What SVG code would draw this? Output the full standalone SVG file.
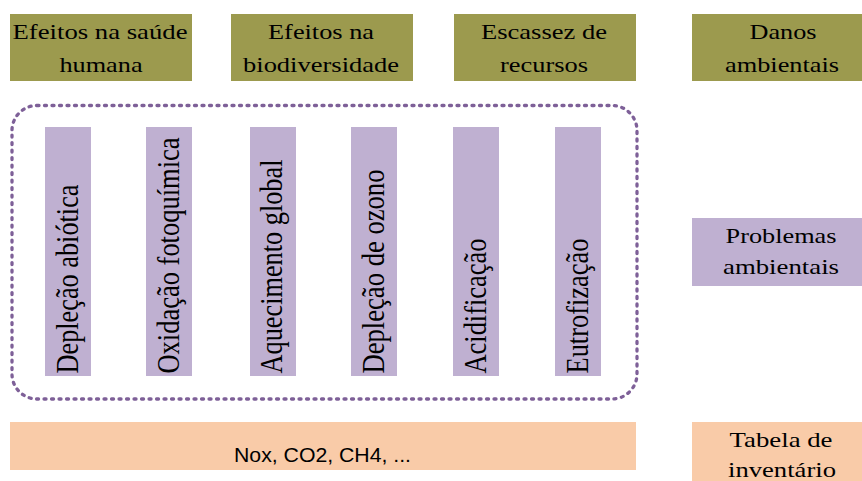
<svg xmlns="http://www.w3.org/2000/svg" width="862" height="481" viewBox="0 0 862 481">
  <style>
    .damage { fill: #9c9a4e; }
    .problem { fill: #bfb0d1; }
    .inventory { fill: #f9cba8; }
    .h-txt { font-family: "Liberation Serif", "Times New Roman", serif; font-size: 22px; fill: #000; text-anchor: middle; }
    .v-txt { font-family: "Liberation Serif", "Times New Roman", serif; font-size: 26px; fill: #000; text-anchor: start; }
    .sans-txt { font-family: "Liberation Sans", Arial, sans-serif; font-size: 20.5px; fill: #000; text-anchor: middle; }
    .frame { fill: none; stroke: #7e6098; stroke-width: 3.3; stroke-dasharray: 2 5.5; stroke-linecap: round; }
  </style>
  <rect width="862" height="481" fill="#ffffff"/>

  <!-- damage categories (labels widened 1.2x horizontally) -->
  <g id="saude">
    <rect class="damage" x="10" y="14" width="182" height="67"/>
    <text class="h-txt" transform="translate(100 39) scale(1.2 1)" textLength="145.8" lengthAdjust="spacingAndGlyphs">Efeitos na saúde</text>
    <text class="h-txt" transform="translate(101 72) scale(1.2 1)" textLength="69.2" lengthAdjust="spacingAndGlyphs">humana</text>
  </g>
  <g id="biodiversidade">
    <rect class="damage" x="231" y="14" width="182" height="67"/>
    <text class="h-txt" transform="translate(321 39) scale(1.2 1)" textLength="88.3" lengthAdjust="spacingAndGlyphs">Efeitos na</text>
    <text class="h-txt" transform="translate(321 72) scale(1.2 1)" textLength="130" lengthAdjust="spacingAndGlyphs">biodiversidade</text>
  </g>
  <g id="recursos">
    <rect class="damage" x="454" y="14" width="182" height="67"/>
    <text class="h-txt" transform="translate(544 39) scale(1.2 1)" textLength="105" lengthAdjust="spacingAndGlyphs">Escassez de</text>
    <text class="h-txt" transform="translate(544 72) scale(1.2 1)" textLength="73.3" lengthAdjust="spacingAndGlyphs">recursos</text>
  </g>
  <g id="danos">
    <rect class="damage" x="692" y="14" width="180" height="67"/>
    <text class="h-txt" transform="translate(783 39) scale(1.2 1)" textLength="55.8" lengthAdjust="spacingAndGlyphs">Danos</text>
    <text class="h-txt" transform="translate(782 72) scale(1.2 1)" textLength="95" lengthAdjust="spacingAndGlyphs">ambientais</text>
  </g>

  <!-- grouping frame around impact categories -->
  <g id="grupo-problemas">
    <rect class="frame" x="12" y="105.5" width="625" height="293.5" rx="25" ry="25"/>
  </g>

  <!-- impact categories (vertical labels, widened glyphs) -->
  <g id="deplecao-abiotica">
    <rect class="problem" x="45" y="127" width="46" height="249"/>
    <text class="v-txt" transform="translate(77.5 373.5) scale(1.2 1) rotate(-90)" textLength="189" lengthAdjust="spacingAndGlyphs">Depleção abiótica</text>
  </g>
  <g id="oxidacao">
    <rect class="problem" x="146" y="127" width="46" height="249"/>
    <text class="v-txt" transform="translate(178.5 373.5) scale(1.2 1) rotate(-90)" textLength="236" lengthAdjust="spacingAndGlyphs">Oxidação fotoquímica</text>
  </g>
  <g id="aquecimento">
    <rect class="problem" x="250" y="127" width="46" height="249"/>
    <text class="v-txt" transform="translate(282 373.5) scale(1.2 1) rotate(-90)" textLength="214" lengthAdjust="spacingAndGlyphs">Aquecimento global</text>
  </g>
  <g id="deplecao-ozono">
    <rect class="problem" x="351" y="127" width="46" height="249"/>
    <text class="v-txt" transform="translate(383.5 373.5) scale(1.2 1) rotate(-90)" textLength="204" lengthAdjust="spacingAndGlyphs">Depleção de ozono</text>
  </g>
  <g id="acidificacao">
    <rect class="problem" x="453" y="127" width="46" height="249"/>
    <text class="v-txt" transform="translate(485.5 373.5) scale(1.2 1) rotate(-90)" textLength="135" lengthAdjust="spacingAndGlyphs">Acidificação</text>
  </g>
  <g id="eutrofizacao">
    <rect class="problem" x="555" y="127" width="46" height="249"/>
    <text class="v-txt" transform="translate(587.5 373.5) scale(1.2 1) rotate(-90)" textLength="135" lengthAdjust="spacingAndGlyphs">Eutrofização</text>
  </g>
  <g id="problemas">
    <rect class="problem" x="692" y="218" width="180" height="68"/>
    <text class="h-txt" transform="translate(781 243) scale(1.2 1)" textLength="92.5" lengthAdjust="spacingAndGlyphs">Problemas</text>
    <text class="h-txt" transform="translate(781 274) scale(1.2 1)" textLength="96.7" lengthAdjust="spacingAndGlyphs">ambientais</text>
  </g>

  <!-- inventory -->
  <g id="emissoes">
    <rect class="inventory" x="10" y="422" width="626" height="48"/>
    <text class="sans-txt" x="322.5" y="462" textLength="177" lengthAdjust="spacingAndGlyphs">Nox, CO2, CH4, ...</text>
  </g>
  <g id="inventario">
    <rect class="inventory" x="692" y="422" width="180" height="59"/>
    <text class="h-txt" transform="translate(781 447) scale(1.2 1)" textLength="85.8" lengthAdjust="spacingAndGlyphs">Tabela de</text>
    <text class="h-txt" transform="translate(782 477) scale(1.2 1)" textLength="90" lengthAdjust="spacingAndGlyphs">inventário</text>
  </g>
</svg>
